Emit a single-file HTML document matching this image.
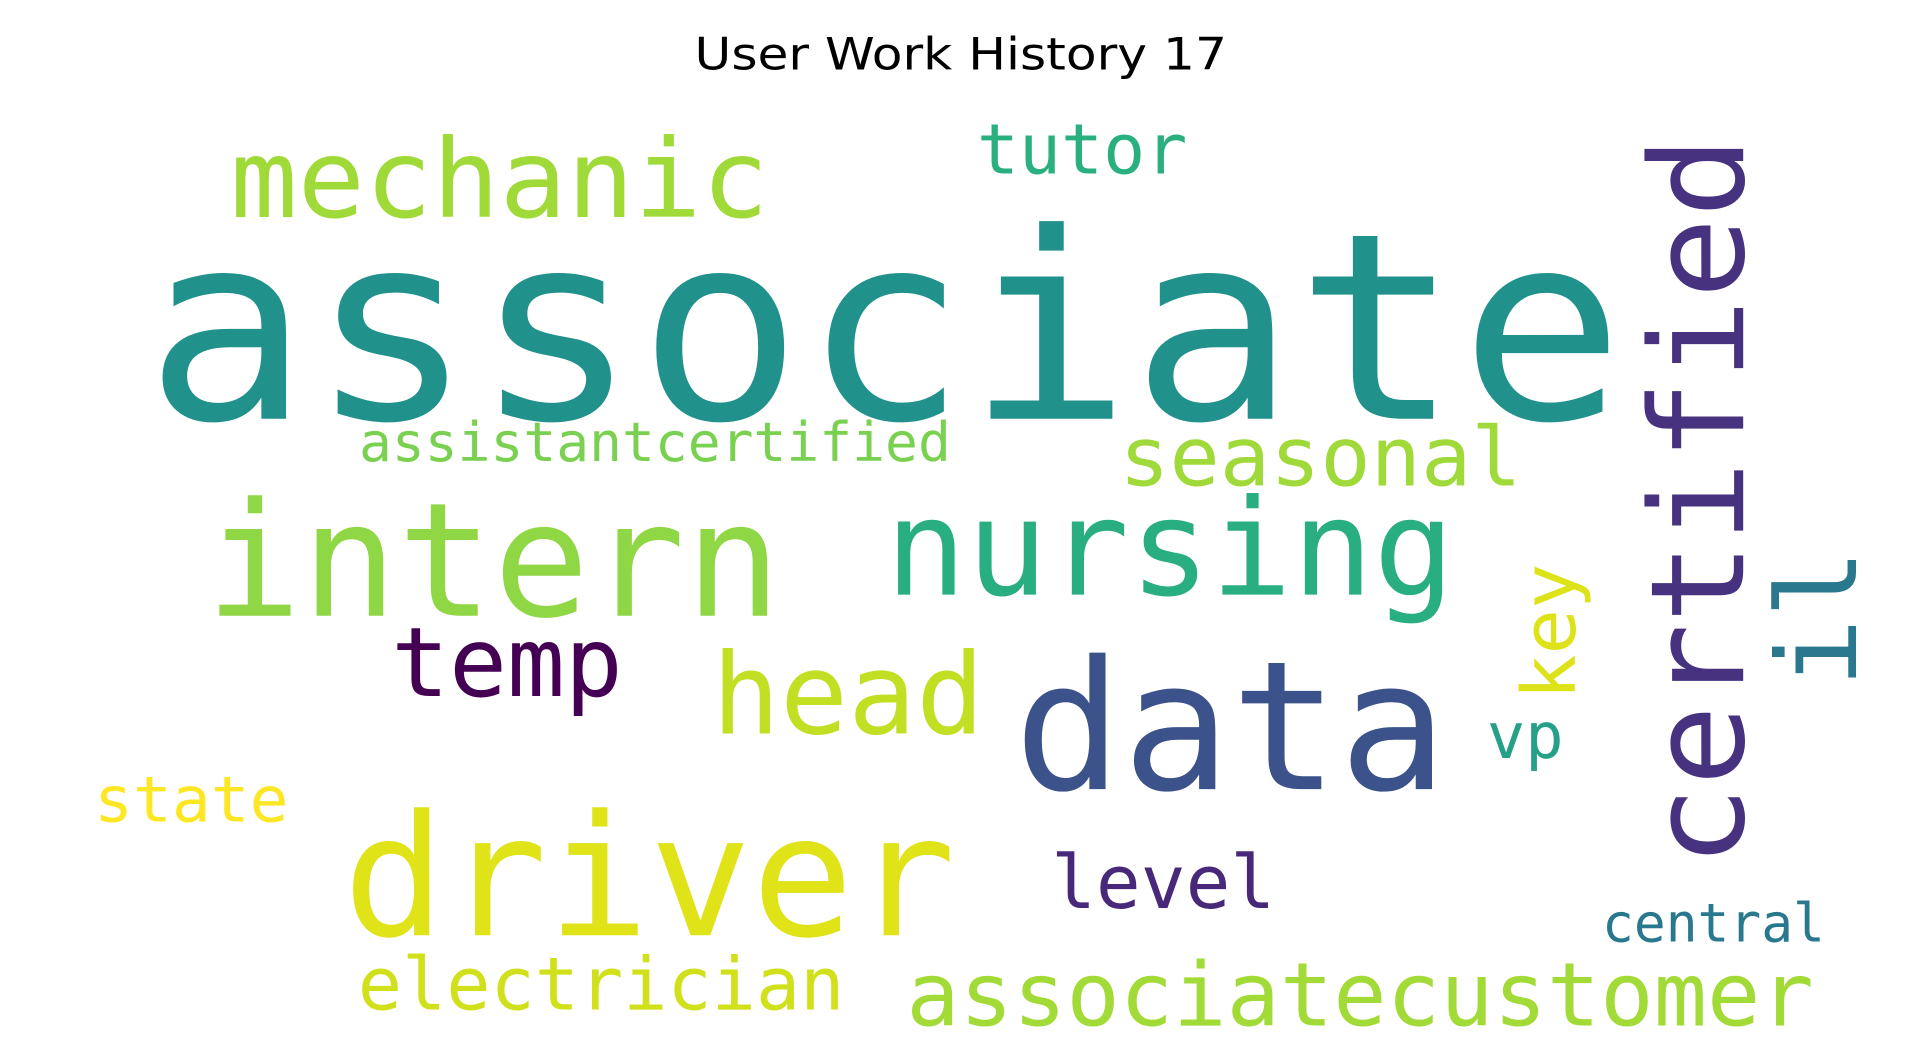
<!DOCTYPE html>
<html><head><meta charset="utf-8"><style>
html,body{margin:0;padding:0;background:#fff;width:1919px;height:1053px;overflow:hidden}
svg{display:block}
</style></head><body>
<svg id="cloud" width="1919" height="1053" viewBox="0 0 1550 850" preserveAspectRatio="none" xmlns="http://www.w3.org/2000/svg">
<rect width="1550" height="850" fill="#fff"/>
<text x="776" y="56" text-anchor="middle" textLength="430" lengthAdjust="spacingAndGlyphs" font-family="'DejaVu Sans','Liberation Sans',sans-serif" font-size="36" fill="#000">User Work History 17</text>
<g id="words"></g>
</svg>
<script>
const words = ["associate","mechanic","tutor","certified","assistantcertified","seasonal","intern","nursing","key","il","temp","head","data","vp","state","driver","level","central","electrician","associatecustomer"];
const fontSizes = [210,88,56,105,44,66,128,108,60,89,78,91,145,51,51,136,60,43,59,71];
const colors = ["#21918c","#a0da39","#2ab07f","#46327e","#7ad151","#9fda3a","#8fd744","#28ae80","#dde318","#2a788e","#440154","#c2df23","#3b528b","#25a187","#fde725","#dfe318","#482979","#2a788e","#d0e11c","#a2da37"];
const anchorX = [117,186,789,1408,290,904,166,715,1272,1499,316,575,819,1201,76,277,849,1294,289,732];
const anchorY = [338,175,140,700,372,392,497,480,565,555,562,592,637,612,663,755,733,760,815,828];
const spans = [1195,435,170,590,478,325,465,460,110,112,187,220,350,62,157,495,181,180,393,733];
const vertical = [0,0,0,1,0,0,0,0,1,1,0,0,0,0,0,0,0,0,0,0];
const g = document.getElementById('words');
const NS = 'http://www.w3.org/2000/svg';
words.forEach((w,i)=>{
  const t = document.createElementNS(NS,'text');
  
  
  t.setAttribute('font-family', "'DejaVu Sans Mono','Liberation Mono',monospace");
  t.setAttribute('font-size', fontSizes[i]);
  t.setAttribute('fill', colors[i]);
  t.setAttribute('textLength', spans[i]);
  t.setAttribute('lengthAdjust', 'spacingAndGlyphs');
  if (vertical[i]) {
    t.setAttribute('transform', 'translate(' + anchorX[i] + ',' + anchorY[i] + ') rotate(-90)');
  } else {
    t.setAttribute('x', anchorX[i]);
    t.setAttribute('y', anchorY[i]);
  }
  t.textContent = w;
  g.appendChild(t);
});
</script>
</body></html>
